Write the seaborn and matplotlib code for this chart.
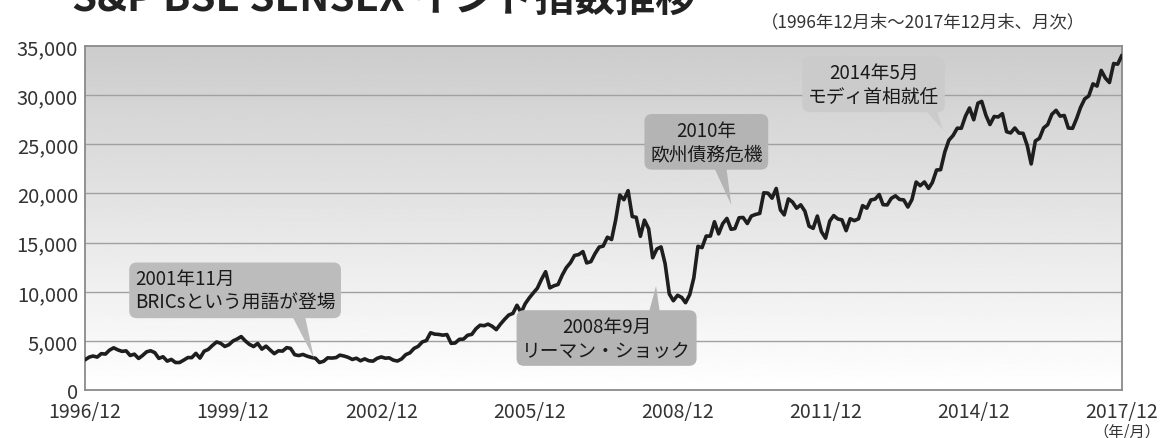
import numpy as np
import pandas as pd
import seaborn as sns
import matplotlib.pyplot as plt
import matplotlib.dates as mdates
from matplotlib.ticker import FuncFormatter

# S&P BSE SENSEX month-end values, 1996/12 - 2017/12
sensex = [
    3085,  # 1996/12
    3361, 3469, 3361, 3709, 3669, 4069, 4306, 4093, 3947, 3993, 3524, 3659,  # 1997
    3224, 3507, 3893, 4007, 3813, 3230, 3397, 2950, 3126, 2812, 2810, 3055,  # 1998
    3316, 3304, 3740, 3260, 3958, 4140, 4542, 4899, 4765, 4444, 4622, 5006,  # 1999
    5206, 5447, 5001, 4657, 4433, 4748, 4170, 4477, 4090, 3711, 3998, 3972,  # 2000
    4326, 4247, 3604, 3519, 3632, 3457, 3329, 3245, 2811, 2940, 3287, 3262,  # 2001
    3311, 3562, 3469, 3338, 3125, 3245, 2988, 3181, 2991, 2949, 3228, 3377,  # 2002
    3250, 3283, 3049, 2960, 3181, 3607, 3792, 4245, 4453, 4906, 5044, 5839,  # 2003
    5696, 5667, 5591, 5655, 4760, 4795, 5170, 5192, 5584, 5672, 6234, 6603,  # 2004
    6556, 6714, 6493, 6154, 6715, 7194, 7635, 7806, 8634, 7892, 8789, 9398,  # 2005
    9920, 10370, 11280, 12043, 10399, 10609, 10744, 11699, 12454, 12962, 13696, 13787,  # 2006
    14091, 12938, 13072, 13872, 14544, 14651, 15551, 15319, 17291, 19838, 19363, 20287,  # 2007
    17649, 17579, 15644, 17287, 16416, 13462, 14356, 14565, 12860, 9788, 9093, 9647,  # 2008
    9424, 8892, 9709, 11403, 14625, 14494, 15670, 15667, 17127, 15896, 16926, 17465,  # 2009
    16358, 16430, 17528, 17559, 16945, 17701, 17868, 17971, 20069, 20032, 19521, 20509,  # 2010
    18328, 17823, 19445, 19136, 18503, 18846, 18197, 16676, 16454, 17705, 16123, 15455,  # 2011
    17194, 17753, 17404, 17319, 16219, 17430, 17236, 17430, 18763, 18505, 19340, 19427,  # 2012
    19895, 18862, 18836, 19504, 19760, 19396, 19346, 18620, 19380, 21165, 20792, 21171,  # 2013
    20514, 21120, 22386, 22418, 24218, 25414, 25895, 26638, 26631, 27866, 28694, 27499,  # 2014
    29183, 29362, 27957, 27011, 27828, 27781, 28115, 26283, 26155, 26657, 26146, 26118,  # 2015
    24871, 23002, 25342, 25607, 26668, 26999, 28052, 28452, 27866, 27930, 26653, 26626,  # 2016
    27656, 28743, 29621, 29918, 31146, 30922, 32515, 31730, 31284, 33213, 33149, 34057,  # 2017
]
months = pd.date_range("1996-12-31", periods=len(sensex), freq="ME")
tick_years = [1996, 1999, 2002, 2005, 2008, 2011, 2014, 2017]
y_ticks = [0, 5000, 10000, 15000, 20000, 25000, 30000, 35000]

# callouts: text, text position (date, value), pointer tip (date, value), align, box colour, relpos
callouts = [
    ("2001年11月\nBRICsという用語が登場", "2000-01-15", 10150, "2001-08-20", 3250, "left", "#bcbcbc", (0.80, 0.15)),
    ("2010年\n欧州債務危機", "2009-08-01", 25250, "2010-02-01", 18850, "center", "#b4b4b4", (0.60, 0.15)),
    ("2008年9月\nリーマン・ショック", "2007-07-25", 5300, "2008-07-25", 10600, "center", "#b4b4b4", (0.78, 0.85)),
    ("2014年5月\nモディ首相就任", "2012-12-20", 31100, "2014-05-15", 26500, "center", "#cbcbcb", (0.90, 0.15)),
]

df = pd.DataFrame({"month": months, "sensex": sensex})

sns.set_theme(style="white")
plt.rcParams["font.family"] = ["Noto Sans CJK JP", "DejaVu Sans"]

fig = plt.figure(figsize=(11.65, 4.39), dpi=100)
ax = fig.add_axes([0.073, 0.109, 0.890, 0.784])

# grey-to-white background gradient
grad = np.linspace(1.0, 0.80, 256).reshape(-1, 1)
ax.imshow(grad, extent=[0, 1, 0, 1], transform=ax.transAxes, aspect="auto",
          cmap="gray", vmin=0, vmax=1, origin="lower", zorder=0)

for v in y_ticks[1:-1]:
    ax.axhline(v, color="#a0a0a0", lw=1.0, zorder=1)

sns.lineplot(data=df, x="month", y="sensex", ax=ax, color="#1e1e1e", lw=2.6, zorder=3)

for label, tx, ty, px, py, ha, fc, rp in callouts:
    ax.annotate(label, xy=(mdates.date2num(pd.Timestamp(px)), py),
                xytext=(mdates.date2num(pd.Timestamp(tx)), ty),
                ha="center", va="center", multialignment=ha,
                fontsize=13.5, color="#1a1a1a", linespacing=1.15, zorder=5,
                bbox=dict(boxstyle="round,pad=0.3,rounding_size=0.4", fc=fc, ec="none"),
                arrowprops=dict(arrowstyle="wedge,tail_width=0.8", fc=fc, ec="none",
                                relpos=rp, shrinkA=0, shrinkB=0, patchA=None))

ax.set_xlim(months[0], months[-1])
ax.set_ylim(0, 35000)
ax.set_yticks(y_ticks)
ax.yaxis.set_major_formatter(FuncFormatter(lambda v, p: f"{int(v):,}"))
ax.set_xticks([pd.Timestamp(f"{y}-12-31") for y in tick_years])
ax.xaxis.set_major_formatter(mdates.DateFormatter("%Y/%m"))
ax.tick_params(axis="x", direction="in", length=6, width=1, color="#888888",
               labelsize=14, labelcolor="#333333", pad=8)
ax.tick_params(axis="y", length=0, labelsize=14.5, labelcolor="#333333", pad=5)
ax.set_xlabel("")
ax.set_ylabel("")
for s in ax.spines.values():
    s.set_color("#8a8a8a")
    s.set_linewidth(1.3)

fig.text(0.062, 0.975, "S&P BSE SENSEX インド指数推移", fontsize=29, fontweight="bold",
         color="#222222", va="baseline", ha="left")
fig.text(0.931, 0.948, "（1996年12月末～2017年12月末、月次）", fontsize=12.5,
         color="#333333", ha="right", va="center")
fig.text(0.996, 0.016, "（年/月）", fontsize=11, color="#333333", ha="right", va="center")

fig.savefig("out.png", dpi=100)
